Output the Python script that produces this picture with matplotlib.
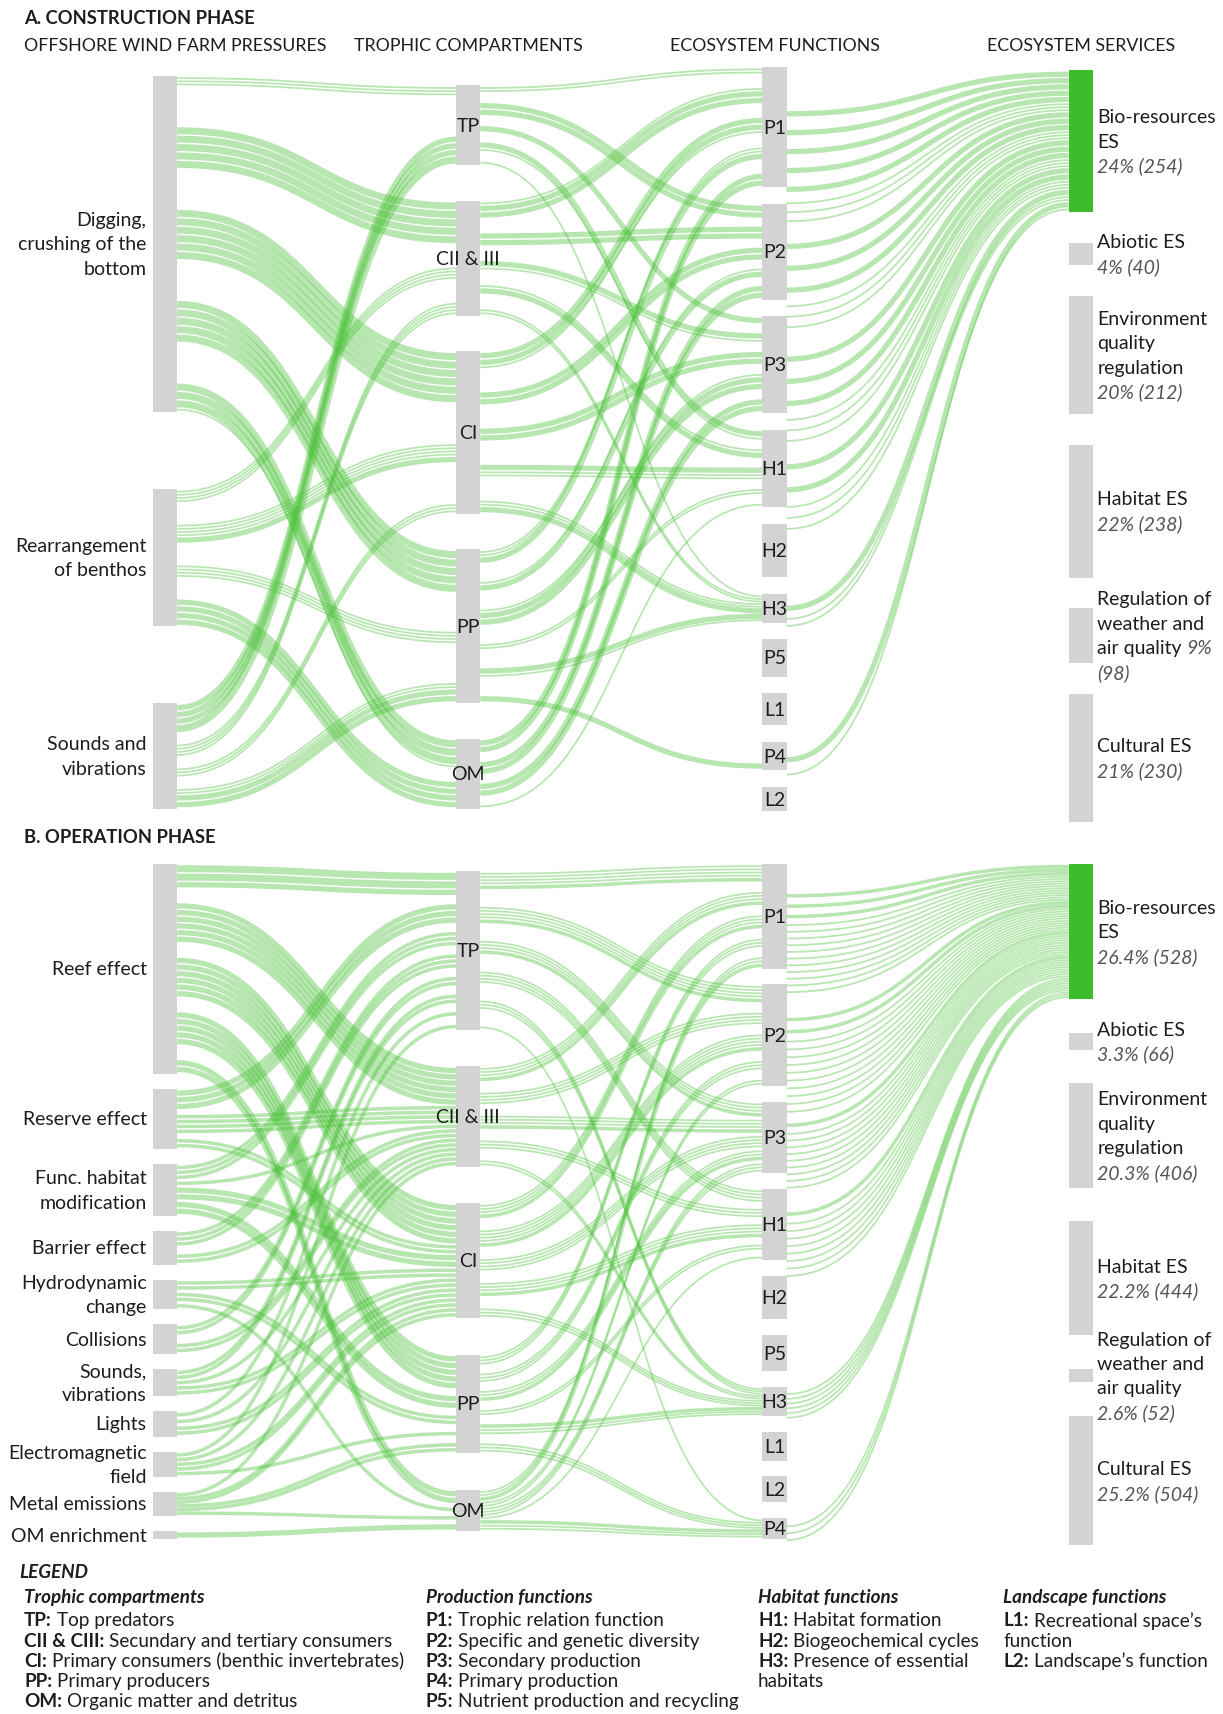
import matplotlib
matplotlib.use("Agg")
import matplotlib.pyplot as plt
from matplotlib.path import Path
from matplotlib.patches import PathPatch, Rectangle

plt.rcParams["font.family"] = ["Lato", "DejaVu Sans"]

# ---------------------------------------------------------------- data
trophic = ["TP", "CII & III", "CI", "PP", "OM"]
services = ["Bio", "Abiotic", "Env", "Habitat", "Weather", "Cultural"]
service_names = [["Bio-resources", "ES"], ["Abiotic ES"],
                 ["Environment", "quality", "regulation"], ["Habitat ES"],
                 ["Regulation of", "weather and", "air quality"], ["Cultural ES"]]

# A. construction phase
a_pressures = ["Digging", "Rearrangement", "Sounds"]
a_pressure_labels = [["Digging,", "crushing of the", "bottom"],
                     ["Rearrangement", "of benthos"], ["Sounds and", "vibrations"]]
a_pressure_sizes = [603, 246, 189]
a_trophic_sizes = [143, 206, 291, 275, 126]
a_functions = ["P1", "P2", "P3", "H1", "H2", "H3", "P5", "L1", "P4", "L2"]
a_function_sizes = [216, 171, 173, 139, 96, 51, 67, 57, 51, 43]
a_service_counts = [254, 40, 212, 238, 98, 230]
a_service_pct = ["24%", "4%", "20%", "22%", "9%", "21%"]

a_links_pt = [
    ("Digging", "TP", [1, 1, 1]),
    ("Digging", "CII & III", [4, 4, 4, 4, 4]),
    ("Digging", "CI", [4, 4, 4, 4, 4, 4]),
    ("Digging", "PP", [4, 4, 4, 4, 4]),
    ("Digging", "OM", [4, 4, 4, 1]),
    ("Rearrangement", "CII & III", [1, 1, 1, 1]),
    ("Rearrangement", "CI", [1, 1, 1, 1, 3]),
    ("Rearrangement", "PP", [1, 1, 1, 1]),
    ("Rearrangement", "OM", [3, 3, 3, 3]),
    ("Sounds", "TP", [3, 3, 3, 4]),
    ("Sounds", "CII & III", [1, 1, 1, 1]),
    ("Sounds", "CI", [1, 1, 1]),
    ("Sounds", "PP", [1, 1, 3, 3]),
]
a_links_tf = [
    ("TP", "P1", [1, 1]), ("TP", "P2", [3, 3]), ("TP", "P3", [3]),
    ("TP", "H1", [3, 1]), ("TP", "H3", [1]),
    ("CII & III", "P1", [1, 3, 3]), ("CII & III", "P2", [3, 3]),
    ("CII & III", "P3", [3, 1]), ("CII & III", "H1", [1, 3]),
    ("CII & III", "H3", [1, 1]),
    ("CI", "P1", [3, 3, 1]), ("CI", "P2", [3, 3]), ("CI", "P3", [3, 3]),
    ("CI", "H1", [3, 1, 1]), ("CI", "H3", [1, 1, 3]),
    ("PP", "P1", [1, 1, 3]), ("PP", "P2", [1, 3]), ("PP", "P3", [1, 3, 3]),
    ("PP", "H1", [1, 1]), ("PP", "H3", [3, 1]), ("PP", "P4", [3]),
    ("OM", "P1", [3, 3]), ("OM", "P2", [3, 3]), ("OM", "P3", [3, 3]),
    ("OM", "H1", [1]),
]
a_links_fs = [
    ("P1", "Bio", [3, 3, 3, 3, 3, 1, 1, 1]),
    ("P2", "Bio", [3, 3, 3, 1, 1, 1]),
    ("P3", "Bio", [3, 3, 3, 1, 1, 1]),
    ("H1", "Bio", [3, 3, 1, 1, 1]),
    ("H3", "Bio", [3, 1, 1]),
    ("P4", "Bio", [3, 1]),
]

# B. operation phase
b_pressures = ["Reef", "Reserve", "Func", "Barrier", "Hydro", "Collisions",
               "Sounds", "Lights", "EMF", "Metal", "OMe"]
b_pressure_labels = [["Reef effect"], ["Reserve effect"], ["Func. habitat", "modification"],
                     ["Barrier effect"], ["Hydrodynamic", "change"], ["Collisions"],
                     ["Sounds,", "vibrations"], ["Lights"], ["Electromagnetic", "field"],
                     ["Metal emissions"], ["OM enrichment"]]
b_pressure_sizes = [817, 234, 200, 132, 115, 115, 106, 98, 98, 94, 30]
b_trophic_sizes = [617, 391, 447, 383, 162]
b_functions = ["P1", "P2", "P3", "H1", "H2", "P5", "H3", "L1", "L2", "P4"]
b_function_sizes = [409, 396, 277, 277, 170, 140, 115, 111, 102, 81]
b_service_counts = [528, 66, 406, 444, 52, 504]
b_service_pct = ["26.4%", "3.3%", "20.3%", "22.2%", "2.6%", "25.2%"]

b_links_pt = [
    ("Reef", "TP", [4, 4, 3]), ("Reef", "CII & III", [3, 3, 3, 3, 3, 3]),
    ("Reef", "CI", [3, 3, 3, 3, 3, 3]), ("Reef", "PP", [3, 3, 3, 3, 3]),
    ("Reef", "OM", [3, 3]),
    ("Reserve", "TP", [3, 3, 3]), ("Reserve", "CII & III", [2, 2, 2, 2]),
    ("Reserve", "CI", [2, 2]),
    ("Func", "TP", [2, 2, 2]), ("Func", "CII & III", [2]), ("Func", "CI", [3, 3]),
    ("Func", "PP", [3, 3]),
    ("Barrier", "TP", [2, 2, 2]), ("Barrier", "CII & III", [2, 2]),
    ("Hydro", "CI", [2, 2]), ("Hydro", "PP", [2, 2]), ("Hydro", "OM", [2]),
    ("Collisions", "TP", [2, 2]), ("Collisions", "CII & III", [2, 2]),
    ("Sounds", "TP", [2, 2]), ("Sounds", "CII & III", [2]), ("Sounds", "CI", [2, 2]),
    ("Lights", "TP", [2]), ("Lights", "CII & III", [2]), ("Lights", "CI", [2, 2]),
    ("EMF", "TP", [2]), ("EMF", "CII & III", [2]), ("EMF", "CI", [2, 2]),
    ("EMF", "PP", [2]),
    ("Metal", "CII & III", [2]), ("Metal", "CI", [2, 2]), ("Metal", "PP", [2, 2]),
    ("Metal", "OM", [2]),
    ("OMe", "OM", [3]),
]
b_links_tf = [
    ("TP", "P1", [1, 1, 1, 1, 2]), ("TP", "P2", [1, 1, 1, 1, 2]),
    ("TP", "P3", [1, 1, 1, 2]), ("TP", "H1", [1, 1, 1, 1]),
    ("TP", "H3", [1, 1, 1]), ("TP", "P4", [1]),
    ("CII & III", "P1", [1, 1, 1, 2]), ("CII & III", "P2", [1, 1, 1, 1]),
    ("CII & III", "P3", [1, 1, 1, 2]), ("CII & III", "H1", [1, 1, 1]),
    ("CII & III", "H3", [1, 1]),
    ("CI", "P1", [1, 1, 1, 2]), ("CI", "P2", [1, 1, 1, 1, 2]),
    ("CI", "P3", [1, 1, 1, 1]), ("CI", "H1", [1, 1, 1, 2]), ("CI", "H3", [1, 1, 1]),
    ("PP", "P1", [1, 1, 1]), ("PP", "P2", [1, 1, 1]), ("PP", "P3", [1, 1, 2]),
    ("PP", "H1", [1, 1]), ("PP", "H3", [2, 1, 1]), ("PP", "P4", [1, 1, 1]),
    ("OM", "P1", [1, 1, 2]), ("OM", "P2", [1, 1]), ("OM", "P3", [1, 1, 1]),
    ("OM", "H1", [1]), ("OM", "P4", [2, 1, 1]),
]
b_links_fs = [
    ("P1", "Bio", [2, 2, 2, 1, 1, 1, 1, 1, 1, 1, 1, 1, 1, 1]),
    ("P2", "Bio", [2, 2, 1, 1, 1, 1, 1, 1, 1, 1, 1, 1]),
    ("P3", "Bio", [2, 1, 1, 1, 1, 1, 1, 1, 1, 1]),
    ("H1", "Bio", [2, 1, 1, 1, 1, 1, 1, 1, 1]),
    ("H3", "Bio", [1, 1, 1, 1, 1, 1]),
    ("P4", "Bio", [1, 1, 1]),
]

legend_cols = [
    ("Trophic compartments", [("TP:", "Top predators"),
                              ("CII & CIII:", "Secundary and tertiary consumers"),
                              ("CI:", "Primary consumers (benthic invertebrates)"),
                              ("PP:", "Primary producers"),
                              ("OM:", "Organic matter and detritus")]),
    ("Production functions", [("P1:", "Trophic relation function"),
                              ("P2:", "Specific and genetic diversity"),
                              ("P3:", "Secondary production"),
                              ("P4:", "Primary production"),
                              ("P5:", "Nutrient production and recycling")]),
    ("Habitat functions", [("H1:", "Habitat formation"),
                           ("H2:", "Biogeochemical cycles"),
                           ("H3:", "Presence of essential"),
                           ("", "habitats")]),
    ("Landscape functions", [("L1:", "Recreational space\u2019s"),
                             ("", "function"),
                             ("L2:", "Landscape\u2019s function")]),
]

# ---------------------------------------------------------------- layout / style
W_UNITS, H_UNITS = 1118, 1567          # layout units (figure is 1223 x 1715 px)
K = 1223 / W_UNITS                     # px per layout unit
PT = K * 72 / 100                      # points per layout unit
COL_X = [140, 417, 697, 977]
NODE_W = 22
STRAND = 1.6                           # layout units per link weight
LINK_COLOR = "#4cc23a"
GREY = "#d3d3d3"
GREEN = "#3dbd2c"
INK = "#1d1d1d"
PCT = "#555555"
FS = 14.0        # labels
HFS = 12.8       # upper-case headers
LFS = 13.6       # legend
STEP = 22.3

fig = plt.figure(figsize=(12.23, 17.15), dpi=100)
ax = fig.add_axes([0, 0, 1, 1])
ax.set_xlim(0, W_UNITS)
ax.set_ylim(H_UNITS, 0)
ax.axis("off")
renderer = fig.canvas.get_renderer()


def column(keys, sizes, span, scale):
    hs = [s * scale for s in sizes]
    gap = (span[1] - span[0] - sum(hs)) / (len(hs) - 1)
    out, y = {}, span[0]
    for k, h in zip(keys, hs):
        out[k] = (y, h)
        y += h + gap
    return out


def stack(groups, top, height, inner=1.3, pad=1.5):
    sizes = [sum(g) + inner * (len(g) - 1) for g in groups]
    total = sum(sizes)
    avail = height - 2 * pad
    n = len(groups)
    gap = (avail - total) / (n - 1) if n > 1 else 0
    squeeze = 1.0
    if gap < inner:
        gap = inner
        squeeze = avail / (total + gap * (n - 1))
    if n == 1 and total < avail:
        start = top + (height - total) / 2
    else:
        start = top + pad
    out, y = [], 0.0
    for g in groups:
        cs = []
        for w in g:
            cs.append(start + (y + w / 2) * squeeze)
            y += w + inner
        y += gap - inner
        out.append(cs)
    return out


def draw_links(links, src, tgt, x0, x1):
    mid = lambda d, k: d[k][0] + d[k][1] / 2
    widths = [[w * STRAND for w in ws] for _, _, ws in links]
    pos_a, pos_b = {}, {}
    for s in src:
        idx = sorted([i for i, l in enumerate(links) if l[0] == s],
                     key=lambda i: mid(tgt, links[i][1]))
        if idx:
            for i, cs in zip(idx, stack([widths[i] for i in idx], *src[s])):
                pos_a[i] = cs
    for t in tgt:
        idx = sorted([i for i, l in enumerate(links) if l[1] == t],
                     key=lambda i: mid(src, links[i][0]))
        if idx:
            for i, cs in zip(idx, stack([widths[i] for i in idx], *tgt[t])):
                pos_b[i] = cs
    xm = (x0 + x1) / 2
    for i in range(len(links)):
        for w, ya, yb in zip(widths[i], pos_a[i], pos_b[i]):
            p = Path([(x0, ya), (xm, ya), (xm, yb), (x1, yb)],
                     [Path.MOVETO, Path.CURVE4, Path.CURVE4, Path.CURVE4])
            ax.add_patch(PathPatch(p, fill=False, lw=w * PT, edgecolor=LINK_COLOR,
                                   alpha=0.4, capstyle="butt", zorder=1))


def text_width(t):
    bb = t.get_window_extent(renderer)
    return bb.width / K


def draw_segments(x, y, segs, fs=FS):
    for txt, kw in segs:
        t = ax.text(x, y, txt, ha="left", va="center", fontsize=fs, zorder=5, **kw)
        x += text_width(t) + 4.5


def draw_nodes(nodes, x, colors=None, labels=None):
    for i, (k, (top, h)) in enumerate(nodes.items()):
        c = colors[i] if colors else GREY
        ax.add_patch(Rectangle((x, top), NODE_W, h, facecolor=c, edgecolor="none", zorder=3))
        if labels:
            ax.text(x + NODE_W / 2, top + h / 2, labels[i], ha="center", va="center",
                    fontsize=FS, color=INK, zorder=5)


def draw_panel(spans, scale, pressures, p_labels, p_sizes, t_sizes, functions, f_sizes,
               s_counts, s_pct, links_pt, links_tf, links_fs, inline_pct):
    pn = column(pressures, p_sizes, spans[0], scale)
    tn = column(trophic, t_sizes, spans[1], scale)
    fn = column(functions, f_sizes, spans[2], scale)
    sn = column(services, s_counts, spans[3], scale)
    draw_links(links_pt, pn, tn, COL_X[0] + NODE_W, COL_X[1])
    draw_links(links_tf, tn, fn, COL_X[1] + NODE_W, COL_X[2])
    draw_links(links_fs, fn, sn, COL_X[2] + NODE_W, COL_X[3])
    draw_nodes(pn, COL_X[0])
    draw_nodes(tn, COL_X[1], labels=trophic)
    draw_nodes(fn, COL_X[2], labels=functions)
    draw_nodes(sn, COL_X[3], colors=[GREEN] + [GREY] * 5)
    # pressure labels
    for k, lines in zip(pressures, p_labels):
        top, h = pn[k]
        n = len(lines)
        for j, line in enumerate(lines):
            ax.text(COL_X[0] - 6, top + h / 2 + (j - (n - 1) / 2) * STEP, line,
                    ha="right", va="center", fontsize=FS, color=INK)
    # service labels
    reg = {"color": INK}
    ita = {"color": PCT, "style": "italic"}
    for i, k in enumerate(services):
        top, h = sn[k]
        rows = [[(ln, reg)] for ln in service_names[i]]
        if inline_pct[i]:
            rows[-1].append((s_pct[i], ita))
            rows.append([("(%d)" % s_counts[i], ita)])
        else:
            rows.append([("%s (%d)" % (s_pct[i], s_counts[i]), ita)])
        n = len(rows)
        for j, segs in enumerate(rows):
            draw_segments(COL_X[3] + NODE_W + 4, top + h / 2 + (j - (n - 1) / 2) * STEP, segs)


# ---------------------------------------------------------------- panels
ax.text(22, 17, "A. CONSTRUCTION PHASE", fontsize=13.2, fontweight="bold", color=INK,
        ha="left", va="center")
ax.text(22, 42, "OFFSHORE WIND FARM PRESSURES", fontsize=HFS, color=INK, ha="left", va="center")
for x, h in zip(COL_X[1:], ["TROPHIC COMPARTMENTS", "ECOSYSTEM FUNCTIONS", "ECOSYSTEM SERVICES"]):
    ax.text(x + NODE_W / 2, 42, h, fontsize=HFS, color=INK, ha="center", va="center")

draw_panel([(70, 740), (79, 740), (62, 742), (65, 752)], 0.51,
           a_pressures, a_pressure_labels, a_pressure_sizes, a_trophic_sizes,
           a_functions, a_function_sizes, a_service_counts, a_service_pct,
           a_links_pt, a_links_tf, a_links_fs,
           [False, False, False, False, True, False])

ax.text(22, 765, "B. OPERATION PHASE", fontsize=13.2, fontweight="bold", color=INK,
        ha="left", va="center")
draw_panel([(790, 1407), (797, 1400), (790, 1407), (790, 1413)], 0.235,
           b_pressures, b_pressure_labels, b_pressure_sizes, b_trophic_sizes,
           b_functions, b_function_sizes, b_service_counts, b_service_pct,
           b_links_pt, b_links_tf, b_links_fs,
           [False] * 6)

# ---------------------------------------------------------------- legend
ax.text(18, 1437, "LEGEND", fontsize=LFS, fontweight="bold", style="italic", color=INK,
        ha="left", va="center")
for x, (head, items) in zip([22, 389, 693, 917], legend_cols):
    ax.text(x, 1460, head, fontsize=LFS, fontweight="bold", style="italic", color=INK,
            ha="left", va="center")
    for j, (key, txt) in enumerate(items):
        segs = []
        if key:
            segs.append((key, {"color": INK, "fontweight": "bold"}))
        segs.append((txt, {"color": INK}))
        draw_segments(x, 1481 + j * 18.5, segs, fs=LFS)

fig.savefig("out.png", dpi=100)
